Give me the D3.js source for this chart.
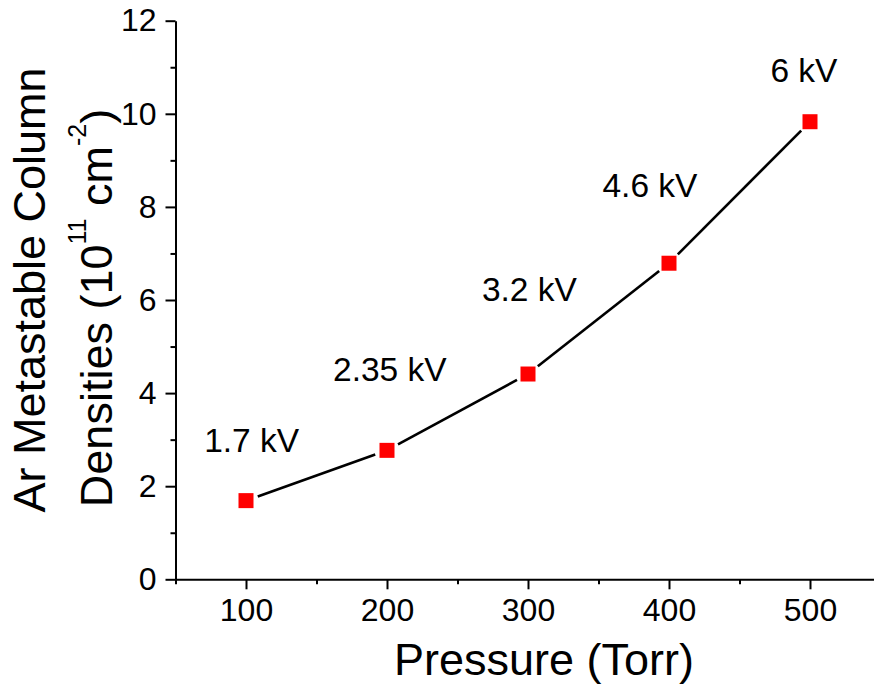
<!DOCTYPE html>
<html>
<head>
<meta charset="utf-8">
<script src="https://cdn.jsdelivr.net/npm/d3@7"></script>
<style>
  html, body { margin: 0; padding: 0; background: #fff; }
  svg { display: block; font-family: Arial, "Liberation Sans", sans-serif; }
</style>
</head>
<body>
<svg id="chart" width="874" height="690"></svg>
<script>
// ---- data ----
const pressure = [100, 200, 300, 400, 500];           // Torr
const density  = [1.69, 2.77, 4.41, 6.79, 9.83];      // 10^11 cm^-2
const voltageLabels = ["1.7 kV", "2.35 kV", "3.2 kV", "4.6 kV", "6 kV"];
const labelPressure = [104, 202, 301, 386.5, 495.7];  // label anchor (data units)
const labelDensity  = [2.735, 4.26, 5.98, 8.21, 10.68];
const xTicks = [100, 200, 300, 400, 500];
const xMinorTicks = [50, 150, 250, 350, 450, 550];
const yTicks = [0, 2, 4, 6, 8, 10, 12];
const yMinorTicks = [1, 3, 5, 7, 9, 11];

const svg = d3.select("#chart");
const x = d3.scaleLinear().domain([50, 550]).range([175.5, 880.5]);
const y = d3.scaleLinear().domain([0, 12]).range([579.3, 20.7]);

const fontTick = 32, fontLabel = 33.5, fontTitle = 45;

// axes
svg.append("g").attr("transform", `translate(0,${y(0)})`)
  .call(d3.axisBottom(x).tickValues(xTicks).tickSize(10).tickSizeOuter(0).tickPadding(9));
svg.append("g").attr("transform", `translate(0,${y(0)})`)
  .call(d3.axisBottom(x).tickValues(xMinorTicks).tickSize(5).tickSizeOuter(0).tickFormat(""))
  .select(".domain").remove();
svg.append("g").attr("transform", `translate(${x(50)},0)`)
  .call(d3.axisLeft(y).tickValues(yTicks).tickSize(10).tickSizeOuter(0).tickPadding(9));
svg.append("g").attr("transform", `translate(${x(50)},0)`)
  .call(d3.axisLeft(y).tickValues(yMinorTicks).tickSize(5).tickSizeOuter(0).tickFormat(""))
  .select(".domain").remove();

svg.selectAll(".domain, .tick line").attr("stroke", "#000").attr("stroke-width", 2);
svg.selectAll(".tick text").attr("font-size", fontTick).attr("fill", "#000")
  .attr("font-family", "Arial, 'Liberation Sans', sans-serif");

// connecting line segments with gaps at markers
const pts = pressure.map((p, i) => [x(p), y(density[i])]);
const gap = 12.5;
const segs = d3.pairs(pts).map(([a, b]) => {
  const dx = b[0] - a[0], dy = b[1] - a[1], L = Math.hypot(dx, dy);
  const ux = dx / L, uy = dy / L;
  return [a[0] + ux * gap, a[1] + uy * gap, b[0] - ux * gap, b[1] - uy * gap];
});
svg.append("g").selectAll("line").data(segs).join("line")
  .attr("x1", d => d[0]).attr("y1", d => d[1])
  .attr("x2", d => d[2]).attr("y2", d => d[3])
  .attr("stroke", "#000").attr("stroke-width", 2.6);

// markers
const ms = 15;
svg.append("g").selectAll("rect").data(pts).join("rect")
  .attr("x", d => d[0] - ms / 2).attr("y", d => d[1] - ms / 2)
  .attr("width", ms).attr("height", ms).attr("fill", "#ff0000");

// voltage labels
svg.append("g").selectAll("text").data(voltageLabels).join("text")
  .attr("x", (d, i) => x(labelPressure[i]))
  .attr("y", (d, i) => y(labelDensity[i]))
  .attr("text-anchor", "middle").attr("font-size", fontLabel).attr("fill", "#000")
  .text(d => d);

// x title
svg.append("text").attr("x", 544).attr("y", 675).attr("text-anchor", "middle")
  .attr("font-size", fontTitle).text("Pressure (Torr)");

// y title (two lines)
svg.append("text").attr("transform", "translate(45,290) rotate(-90)")
  .attr("text-anchor", "middle").attr("font-size", fontTitle).text("Ar Metastable Column");
const t2 = svg.append("text").attr("transform", "translate(112,308) rotate(-90)")
  .attr("text-anchor", "middle").attr("font-size", fontTitle);
t2.append("tspan").text("Densities (10");
t2.append("tspan").attr("font-size", 25).attr("dy", -26).text("11");
t2.append("tspan").attr("dy", 26).text(" cm");
t2.append("tspan").attr("font-size", 25).attr("dy", -26).text("-2");
t2.append("tspan").attr("dy", 26).text(")");
</script>
</body>
</html>
